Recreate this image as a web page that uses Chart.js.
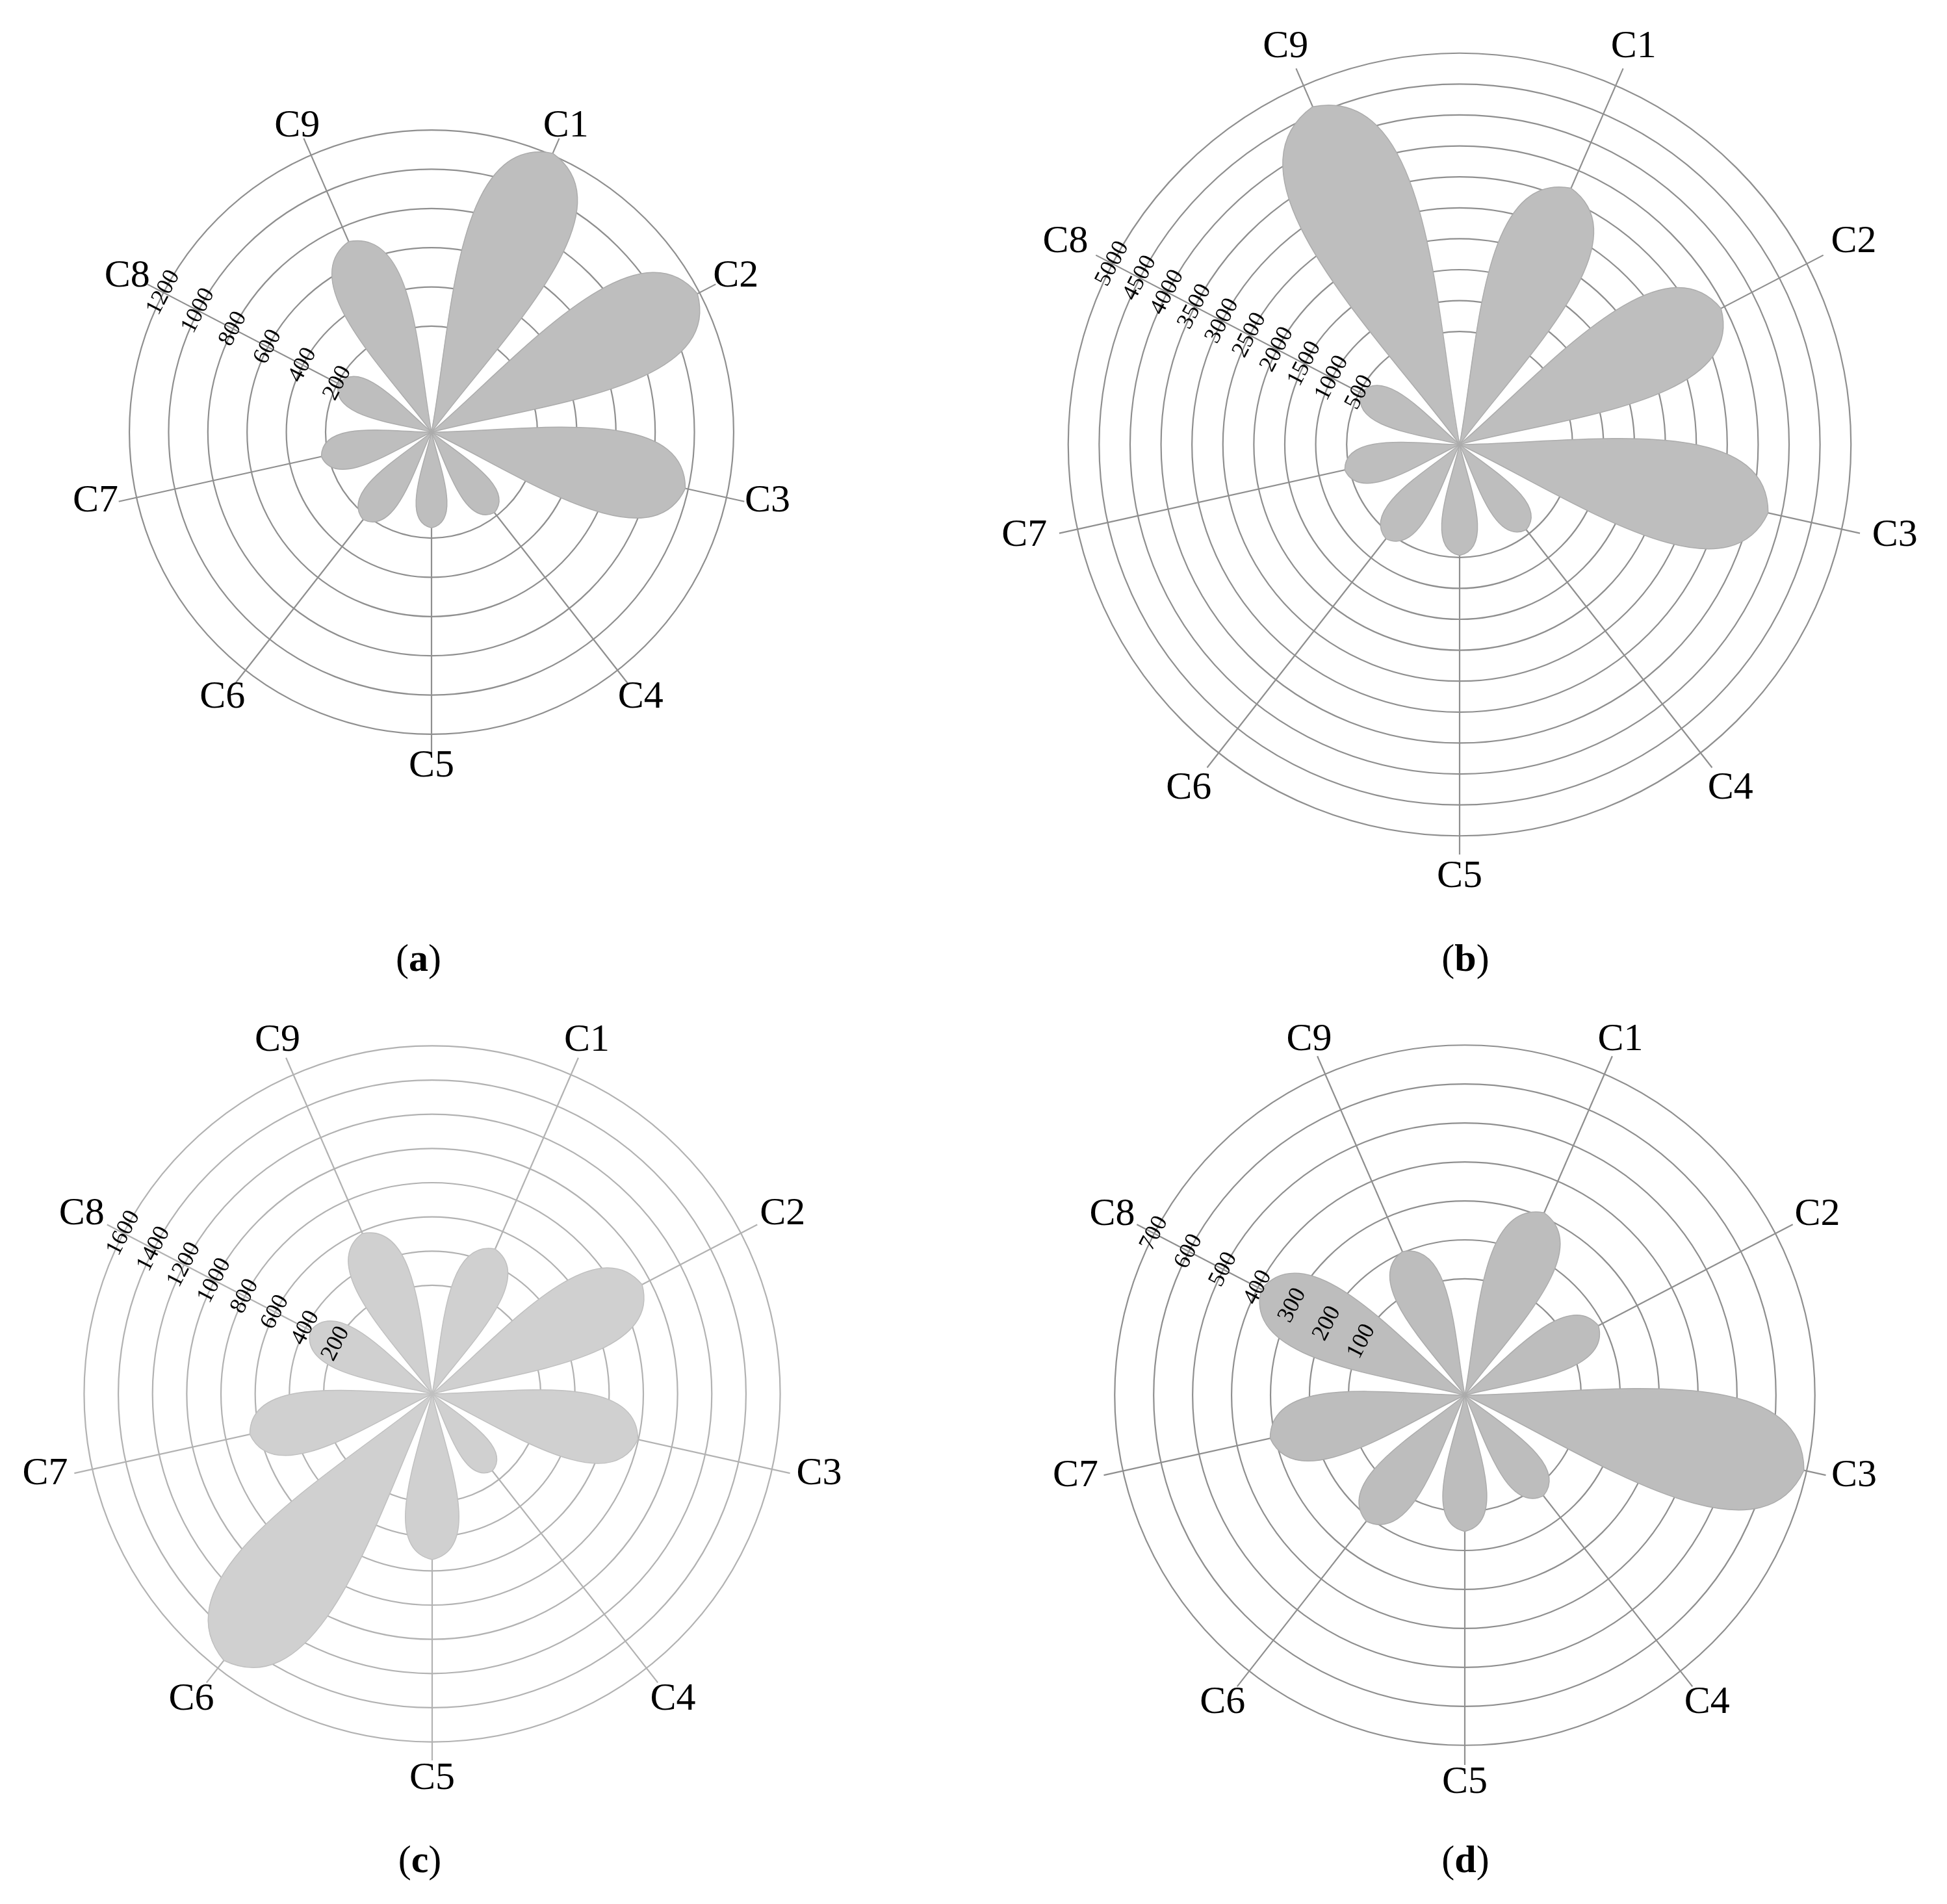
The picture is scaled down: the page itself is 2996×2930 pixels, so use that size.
<!DOCTYPE html>
<html>
<head>
<meta charset="utf-8">
<script src="https://cdn.jsdelivr.net/npm/chart.js@4.4.1/dist/chart.umd.min.js"></script>
<style>
  html, body { margin: 0; padding: 0; background: #fff; }
  body { position: relative; width: 2996px; height: 2930px; overflow: hidden; }
  canvas { position: absolute; }
  .cap {
    position: absolute; transform: translate(-50%, -50%);
    font: 60px "Liberation Serif", serif; color: #000; white-space: nowrap;
  }
</style>
</head>
<body>
<canvas id="chartA"></canvas>
<canvas id="chartB"></canvas>
<canvas id="chartC"></canvas>
<canvas id="chartD"></canvas>
<div class="cap" style="left:644px; top:1474px">(<b>a</b>)</div>
<div class="cap" style="left:2255px; top:1474px">(<b>b</b>)</div>
<div class="cap" style="left:646px; top:2861px">(<b>c</b>)</div>
<div class="cap" style="left:2255px; top:2861px">(<b>d</b>)</div>
<script>
// categories and petal lengths
const categories = ["C1", "C2", "C3", "C4", "C5", "C6", "C7", "C8", "C9"];
const valuesA = [1210, 1188, 985, 181, 148, 226, 235, 194, 719];
const valuesB = [3192, 3437, 3782, 424, 468, 608, 576, 471, 4628];
const valuesC = [489, 949, 797, 137, 534, 1543, 657, 367, 588];
const valuesD = [312, 188, 693, 129, 151, 212, 313, 390, 203];

// ring values (labelled along the C8 spoke)
const ticksA = [200, 400, 600, 800, 1000, 1200];
const ticksB = [500, 1000, 1500, 2000, 2500, 3000, 3500, 4000, 4500, 5000];
const ticksC = [200, 400, 600, 800, 1000, 1200, 1400, 1600];
const ticksD = [100, 200, 300, 400, 500, 600, 700];

// value at the hub (rings start away from the centre) and at the spoke ends
const hubA = -340, spokeEndA = 1293;
const hubB = -1325.5, spokeEndB = 5302;
const hubC = -434.6, spokeEndC = 1708;
const hubD = -198.75, spokeEndD = 750.5;

// spoke directions in the figure (degrees clockwise from north), not evenly spread
const SPOKE_DEG = [23.5, 62.5, 102.5, 142, 180, 218, 257.5, 297.5, 336.5];
const TICK_SPOKE = 7; // tick labels run along C8

const FONT = '"Liberation Serif", "DejaVu Serif", serif';
const CAP = 40; // cap height of the 60px category labels
const RadialBase = Chart.RadialLinearScale || Chart.registry.getScale("radialLinear");

class SpokeScale extends RadialBase {
  getIndexAngle(index) {
    const i = (this._tickSpoke != null && index === 0) ? this._tickSpoke : index;
    return SPOKE_DEG[i % SPOKE_DEG.length] * Math.PI / 180;
  }
  drawLabels() {
    this._tickSpoke = TICK_SPOKE;
    super.drawLabels();
    this._tickSpoke = null;
  }
}
SpokeScale.id = "spokeRadial";
Chart.register(SpokeScale);

/* petals: drawn from the hub out to each data point */
const petalPlugin = {
  id: "petals",
  afterDatasetsDraw(chart, args, opts) {
    const scale = chart.scales.r;
    const ctx = chart.ctx;
    const cx = scale.xCenter, cy = scale.yCenter;
    ctx.save();
    chart.getDatasetMeta(0).data.forEach(pt => {
      const dx = pt.x - cx, dy = pt.y - cy;
      const L = Math.hypot(dx, dy);
      if (L < 1) return;
      const ux = dx / L, uy = dy / L;
      const at = (a, b) => [cx + (ux * a - uy * b) * L, cy + (uy * a + ux * b) * L];
      ctx.beginPath();
      ctx.moveTo(cx, cy);
      ctx.bezierCurveTo(...at(0.35, 0.08), ...at(0.93, 0.32), pt.x, pt.y);
      ctx.bezierCurveTo(...at(0.93, -0.32), ...at(0.35, -0.08), cx, cy);
      ctx.closePath();
      ctx.fillStyle = opts.fill;
      ctx.fill();
      ctx.lineWidth = 1.5;
      ctx.strokeStyle = opts.edge;
      ctx.stroke();
    });
    ctx.restore();
  },
  afterDraw(chart, args, opts) {
    // category names a little outside the outer ring
    const scale = chart.scales.r;
    const ctx = chart.ctx;
    const outer = scale.getDistanceFromCenterForValue(opts.outer);
    ctx.save();
    ctx.font = "60px " + FONT;
    ctx.fillStyle = "#000";
    ctx.textAlign = "center";
    ctx.textBaseline = "alphabetic";
    chart.data.labels.forEach((name, i) => {
      const a = scale.getIndexAngle(i);
      const s = Math.abs(Math.sin(a));
      const p = scale.getPointPosition(i, outer * (1.098 + 0.042 * s));
      const lift = Math.cos(a) < 0 ? 13 * s : 0; // lower side labels sit a bit higher
      ctx.fillText(name, p.x, p.y - lift + CAP / 2);
    });
    ctx.restore();
  }
};

const PAD = 150;

function drawPanel(id, centre, values, ticks, hub, spokeEnd, look) {
  const canvas = document.getElementById(id);
  const size = 2 * (look.radius + 17 + PAD);
  canvas.width = size;
  canvas.height = size;
  canvas.style.left = (centre[0] - size / 2) + "px";
  canvas.style.top = (centre[1] - size / 2) + "px";

  return new Chart(canvas, {
    type: "radar",
    data: {
      labels: categories,
      datasets: [{
        data: values,
        showLine: false,
        fill: false,
        borderWidth: 0,
        backgroundColor: "rgba(0,0,0,0)",
        pointRadius: 0,
        pointHoverRadius: 0,
        pointHitRadius: 0
      }]
    },
    options: {
      responsive: false,
      animation: false,
      events: [],
      layout: { padding: PAD },
      plugins: {
        legend: { display: false },
        tooltip: { enabled: false },
        petals: { fill: look.fill, edge: look.edge, outer: ticks[ticks.length - 1] }
      },
      scales: {
        r: {
          type: "spokeRadial",
          min: hub,
          max: spokeEnd,
          afterBuildTicks: scale => { scale.ticks = ticks.map(v => ({ value: v })); },
          grid: { circular: true, lineWidth: 2.2, color: look.grid },
          angleLines: { display: true, color: look.grid, lineWidth: 2.2 },
          pointLabels: { display: false },
          ticks: {
            z: 1,
            color: "#000",
            font: { family: FONT, size: 36 },
            showLabelBackdrop: false,
            backdropPadding: 0,
            callback: v => String(v)
          }
        }
      }
    },
    plugins: [petalPlugin]
  });
}

drawPanel("chartA", [664, 665], valuesA, ticksA, hubA, spokeEndA,
  { radius: 494, fill: "#bebebe", edge: "#acacac", grid: "#8f8f8f" });
drawPanel("chartB", [2246, 684], valuesB, ticksB, hubB, spokeEndB,
  { radius: 632, fill: "#bebebe", edge: "#acacac", grid: "#8f8f8f" });
drawPanel("chartC", [665, 2145], valuesC, ticksC, hubC, spokeEndC,
  { radius: 565, fill: "#d0d0d0", edge: "#c0c0c0", grid: "#b2b2b2" });
drawPanel("chartD", [2254, 2147], valuesD, ticksD, hubD, spokeEndD,
  { radius: 570, fill: "#bdbdbd", edge: "#acacac", grid: "#8f8f8f" });
</script>
</body>
</html>
